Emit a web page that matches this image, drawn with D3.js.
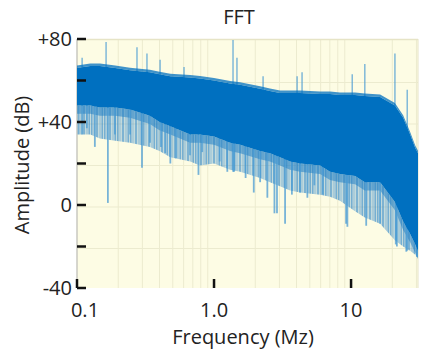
<!DOCTYPE html>
<html>
<head>
<meta charset="utf-8">
<script src="https://d3js.org/d3.v7.min.js"></script>
<style>
    body { margin: 0; background: #fff; }
    text { font-family: "Open Sans", sans-serif; fill: #222; }
</style>
</head>
<body>
<svg id="fft" width="426" height="357"></svg>
<script>

// envelope: frequency (MHz), top of trace, bottom of solid band, bottom of the ragged band (dB)
const freqs     = [0.1, 0.125, 0.147, 0.19, 0.244, 0.34, 0.40, 0.48, 0.67, 0.79, 1.0, 1.31, 1.55, 2.17, 2.56, 3.03, 3.59, 4.25, 5.94, 7.03, 8.3, 10.7, 12.6, 16.3, 20.9, 24.0, 27.0, 29.4, 30.8];
const upper     = [66, 67, 67, 66, 65, 64, 63, 62, 61.5, 61, 60, 58.5, 58, 56, 55, 54, 54, 54, 53.5, 53.5, 53, 53, 52.5, 52, 48, 42, 34, 27.5, 25];
const solidLow  = [48, 48, 47, 47, 46, 43, 40, 38, 34, 34, 33, 30, 29, 26, 25, 23, 21, 20, 19, 16, 15, 14, 11, 11, 1.5, -8, -14, -19, -22];
const raggedLow = [34, 34, 32, 31, 30, 28, 26, 23, 21, 19, 20, 17, 16, 13, 11, 9, 7, 6, 5, 4, 2, -3, -6, -9, -17, -20, -22, -24, -25.5];

// single spikes reaching below / above the band
const dipFreq = [0.109, 0.118, 0.135, 0.168, 0.189, 0.244, 0.298, 0.341, 0.41, 0.44, 0.48, 0.53, 0.668, 0.77, 0.82, 1.1, 1.25, 1.4, 1.38, 1.7, 1.95, 2.17, 2.45, 2.76, 2.88, 3.3, 3.7, 4.25, 4.8, 5.4, 6.2, 9.2, 9.4, 12.9, 16.3, 21.2, 21.6, 25.3, 25.7, 30.3];
const dipLow  = [34, 37, 28, 1, 34, 34, 18, 30, 28, 25, 20, 22.5, 24, 14.5, 25.5, 21, 16, 16, 16, 13, 6, 11, 3.5, -4, -4, -9, 5, 6, 3.5, 9.5, 5, -9, -10.5, -10, -9, -19, -20, -22.5, -22, -25];
const peakFreq = [0.109, 0.163, 0.274, 0.324, 0.404, 0.604, 1.376, 1.47, 2.28, 4.04, 4.39, 10.2, 12.6, 20.9, 25.7];
const peakTop  = [71, 78.5, 76, 73, 70, 66.5, 79.5, 71, 62, 62, 64, 63, 68, 73, 55.5];

const yTicks = [-40, -20, 0, 20, 40, 60, 80];
const yTickLabels = ["-40", "", "0", "", "+40", "", "+80"];
const xTicks = [0.1, 1, 10];
const xTickLabels = ["0.1", "1.0", "10"];
const gridFreqs = [0.2, 0.3, 0.4, 0.5, 0.6, 0.7, 0.8, 0.9, 2, 3, 4, 5, 6, 7, 8, 9, 20, 30];

const svg = d3.select("#fft");
const x = d3.scaleLog().domain([0.1, 30.8]).range([77, 418]);
const y = d3.scaleLinear().domain([-40, 80]).range([288, 39]);

const env = freqs.map((f, i) => ({f: f, up: upper[i], lo: solidLow[i], rag: raggedLow[i]}));
const solidAt = f => {
    const i = Math.max(1, Math.min(freqs.length - 1, d3.bisectLeft(freqs, f)));
    const a = env[i - 1], b = env[i];
    const t = (Math.log(f) - Math.log(a.f)) / (Math.log(b.f) - Math.log(a.f));
    return {lo: a.lo + t * (b.lo - a.lo), up: a.up + t * (b.up - a.up)};
};

// streaky texture for the ragged part of the trace
const pat = svg.append("defs").append("pattern")
   .attr("id", "streaks").attr("patternUnits", "userSpaceOnUse")
   .attr("width", 13).attr("height", 400);
pat.append("rect").attr("width", 13).attr("height", 400).attr("fill", "#3b8ccb").attr("fill-opacity", 0.3);
[[0, 1.5, 0.5], [2.5, 1, 0.3], [5, 2, 0.45], [8.5, 1, 0.35], [10.5, 1.5, 0.5]].forEach(s => {
    pat.append("rect").attr("x", s[0]).attr("width", s[1]).attr("height", 400)
       .attr("fill", "#2a84c6").attr("fill-opacity", s[2]);
});

// plot background
svg.append("rect")
   .attr("x", 77).attr("y", 39)
   .attr("width", 418 - 77).attr("height", 288 - 39)
   .attr("fill", "#fdfce4");

const grid = svg.append("g").attr("stroke", "#ecebcf").attr("stroke-width", 1);
grid.selectAll("line.v").data(gridFreqs).join("line")
    .attr("class", "v")
    .attr("x1", d => x(d)).attr("x2", d => x(d))
    .attr("y1", 39).attr("y2", 288);
grid.selectAll("line.h").data([-20, 0, 20, 40, 60]).join("line")
    .attr("class", "h")
    .attr("x1", 77).attr("x2", 418)
    .attr("y1", d => y(d) + 2).attr("y2", d => y(d) + 2);

// frame
svg.append("line").attr("x1", 77).attr("x2", 418).attr("y1", 39.5).attr("y2", 39.5)
   .attr("stroke", "#e6e4c6").attr("stroke-width", 1.5);
svg.append("line").attr("x1", 418).attr("x2", 418).attr("y1", 39).attr("y2", 288)
   .attr("stroke", "#e6e4c6").attr("stroke-width", 1);
svg.append("line").attr("x1", 77).attr("x2", 77).attr("y1", 39).attr("y2", 288)
   .attr("stroke", "#c8c8c0").attr("stroke-width", 1.5);

// ragged lower band
svg.append("path").datum(env)
   .attr("fill", "url(#streaks)")
   .attr("d", d3.area().x(d => x(d.f)).y0(d => y(d.rag)).y1(d => y(d.lo)));
svg.append("path").datum(env)
   .attr("fill", "#1a7cc4").attr("fill-opacity", 0.5)
   .attr("d", d3.area().x(d => x(d.f)).y0(d => y(d.lo - 4)).y1(d => y(d.lo)));

// spikes downward
svg.append("g").selectAll("line").data(dipFreq).join("line")
   .attr("x1", d => x(d)).attr("x2", d => x(d))
   .attr("y1", (d, i) => y(dipLow[i]))
   .attr("y2", d => y(solidAt(d).lo + 3))
   .attr("stroke", "#4a9bd3").attr("stroke-width", 1.8).attr("stroke-opacity", 0.75);

// spikes upward
svg.append("g").selectAll("line").data(peakFreq).join("line")
   .attr("x1", d => x(d)).attr("x2", d => x(d))
   .attr("y1", (d, i) => y(peakTop[i]))
   .attr("y2", d => y(solidAt(d).up - 3))
   .attr("stroke", "#4a9bd3").attr("stroke-width", 1.5).attr("stroke-opacity", 0.7);

// ragged top edge
svg.append("path").datum(env)
   .attr("fill", "#0070c0").attr("fill-opacity", 0.75)
   .attr("d", d3.area().x(d => x(d.f)).y0(d => y(d.up)).y1(d => y(d.up + 1.2)));

// solid trace
svg.append("path").datum(env)
   .attr("fill", "#0070c0")
   .attr("d", d3.area().x(d => x(d.f)).y0(d => y(d.lo)).y1(d => y(d.up)));

// ticks
svg.append("g").selectAll("line").data(yTicks).join("line")
   .attr("x1", 77).attr("x2", 86)
   .attr("y1", d => y(d)).attr("y2", d => y(d))
   .attr("stroke", "#111").attr("stroke-width", 2.5);
svg.append("g").selectAll("line").data(xTicks).join("line")
   .attr("x1", d => x(d)).attr("x2", d => x(d))
   .attr("y1", 288).attr("y2", 279)
   .attr("stroke", "#111").attr("stroke-width", 2.5);

svg.append("g").selectAll("text").data(yTicks).join("text")
   .attr("x", 72).attr("y", d => y(d))
   .attr("dy", "0.35em")
   .attr("text-anchor", "end")
   .style("font-size", "20px")
   .text((d, i) => yTickLabels[i]);

svg.append("g").selectAll("text").data(xTicks).join("text")
   .attr("x", (d, i) => x(d) + (i == 0 ? 8 : 0)).attr("y", 317)
   .attr("text-anchor", "middle")
   .style("font-size", "20px")
   .text((d, i) => xTickLabels[i]);

svg.append("text").attr("x", 239).attr("y", 24)
   .attr("text-anchor", "middle").style("font-size", "20px").text("FFT");

svg.append("text").attr("x", 243).attr("y", 344)
   .attr("text-anchor", "middle").style("font-size", "20px").text("Frequency (Mz)");

svg.append("text")
   .attr("transform", "translate(29,165) rotate(-90)")
   .attr("text-anchor", "middle").style("font-size", "20px").text("Amplitude (dB)");

</script>
</body>
</html>
